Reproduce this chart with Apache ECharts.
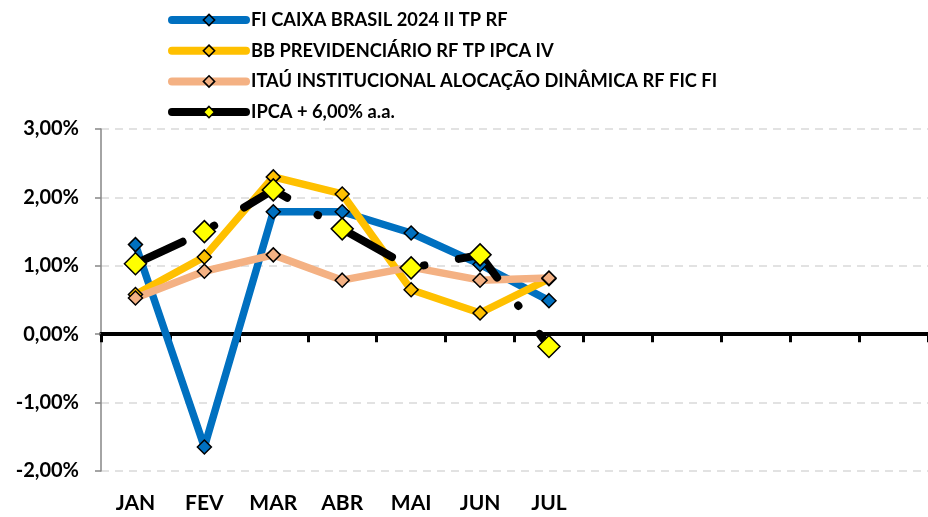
<!DOCTYPE html>
<html>
<head>
<meta charset="utf-8">
<script src="https://cdn.jsdelivr.net/npm/echarts@6/dist/echarts.min.js"></script>
<style>
  html, body { margin: 0; padding: 0; background: #fff; }
  #chart { width: 928px; height: 517px; }
</style>
</head>
<body>
<div id="chart"></div>
<script>
// categories (only Jan-Jul have labels in the source)
const months = ["JAN", "FEV", "MAR", "ABR", "MAI", "JUN", "JUL", "", "", "", "", ""];

// monthly returns, %
const caixa = [1.31, -1.65, 1.79, 1.79, 1.48, 1.02, 0.49];
const bbPrev = [0.58, 1.13, 2.30, 2.05, 0.65, 0.31, 0.81];
const itau = [0.53, 0.92, 1.16, 0.79, 0.98, 0.79, 0.82];
const ipcaMeta = [1.03, 1.50, 2.11, 1.54, 0.97, 1.16, -0.18];

const yTicks = [-2, -1, 0, 1, 2, 3];

const FONT = "Lato";

let chart = echarts.init(document.getElementById("chart"));

function smallDiamond(name, color, data) {
  return {
    name: name,
    type: "line",
    data: data,
    symbol: "diamond",
    symbolSize: 14,
    itemStyle: {
      color: color,
      borderColor: "#000",
      borderWidth: 1.5,
    },
    lineStyle: {
      width: 7.5,
      color: color,
      cap: "round",
      join: "round",
    },
    emphasis: { disabled: true },
  };
}

const option = {
  animation: false,
  legend: {
    orient: "vertical",
    left: 168,
    top: 11,
    padding: 0,
    itemWidth: 74,
    itemHeight: 14,
    itemGap: 12.7,
    textStyle: {
      fontFamily: FONT,
      fontWeight: "bold",
      fontSize: 18.3,
      color: "#000",
    },
    lineStyle: {
      width: 8,
      type: "solid",
      cap: "round",
    },
    itemStyle: {
      borderColor: "#000",
      borderWidth: 1.6,
    },
  },
  grid: {
    left: 101,
    top: 129,
    width: 830,
    bottom: 46,
  },
  xAxis: [
    {
      type: "category",
      data: months,
      boundaryGap: true,
      axisLine: {
        onZero: true,
        lineStyle: { color: "#000", width: 4 },
      },
      axisTick: {
        show: true,
        length: 8,
        lineStyle: { color: "#000", width: 3 },
      },
      axisLabel: { show: false },
      splitLine: { show: false },
    },
    {
      type: "category",
      data: months,
      position: "bottom",
      boundaryGap: true,
      axisLine: { show: false, onZero: false },
      axisTick: { show: false },
      splitLine: { show: false },
      axisLabel: {
        margin: 22,
        fontFamily: FONT,
        fontWeight: "bold",
        fontSize: 21,
        color: "#000",
        interval: 0,
      },
    },
  ],
  yAxis: {
    type: "value",
    min: yTicks[0],
    max: yTicks[yTicks.length - 1],
    interval: 1,
    axisLine: {
      show: true,
      lineStyle: { color: "#868686", width: 1.5 },
    },
    axisTick: {
      show: true,
      length: 6,
      lineStyle: { color: "#868686", width: 1.5 },
    },
    splitLine: {
      lineStyle: { color: "#d9d9d9", width: 1.5, type: [8, 6] },
    },
    axisLabel: {
      margin: 22,
      fontFamily: FONT,
      fontWeight: "bold",
      fontSize: 20,
      color: "#000",
      formatter: function (value) {
        return value.toFixed(2).replace(".", ",") + "%";
      },
    },
  },
  series: [
    smallDiamond("FI CAIXA BRASIL 2024 II TP RF", "#0070c0", caixa),
    smallDiamond("BB PREVIDENCIÁRIO RF TP IPCA IV", "#ffc000", bbPrev),
    smallDiamond("ITAÚ INSTITUCIONAL ALOCAÇÃO DINÂMICA RF FIC FI", "#f4b183", itau),
    {
      name: "IPCA + 6,00% a.a.",
      type: "line",
      data: ipcaMeta,
      symbol: "diamond",
      symbolSize: 22,
      itemStyle: {
        color: "#ffff00",
        borderColor: "#000",
        borderWidth: 1.5,
      },
      lineStyle: {
        width: 8,
        color: "#000",
        type: [50, 35, 0.5, 35],
        dashOffset: -2,
        cap: "round",
        join: "round",
      },
      emphasis: { disabled: true },
    },
  ],
};

chart.setOption(option);
</script>
</body>
</html>
